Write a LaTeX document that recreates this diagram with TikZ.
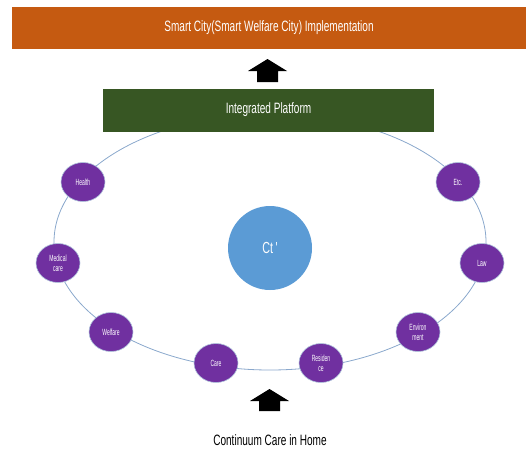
\documentclass[tikz,border=0pt]{standalone}
\usepackage{fontspec}
\usetikzlibrary{shapes.geometric}
\setmainfont{Liberation Sans}
\newfontfamily\narrowsans[FakeStretch=0.67]{Liberation Sans}
\newfontfamily\tinysans[FakeStretch=0.56]{Liberation Sans}
\definecolor{barorange}{HTML}{C55A11}
\definecolor{platgreen}{HTML}{375623}
\definecolor{topicpurple}{HTML}{7030A0}
\definecolor{hubblue}{HTML}{5B9BD5}
\definecolor{ringblue}{HTML}{8AA8CC}
\begin{document}
\begin{tikzpicture}[x=1pt,y=-1pt,
  topbar/.style={fill=barorange, draw=none, minimum width=514pt, minimum height=42pt,
    inner sep=0pt, text=white, font=\narrowsans\fontsize{15}{16}\selectfont},
  platform/.style={fill=platgreen, draw=none, minimum width=331pt, minimum height=43pt,
    inner sep=0pt, text=white, font=\narrowsans\fontsize{15}{16}\selectfont},
  ring/.style={draw=ringblue, line width=0.8pt},
  topic/.style={ellipse, fill=topicpurple, draw=ringblue!70, line width=0.6pt,
    minimum width=44pt, minimum height=39pt, inner sep=0pt, text=white, align=center,
    font=\tinysans\fontsize{9}{10}\selectfont},
  hub/.style={circle, fill=hubblue, draw=none, minimum size=84pt, inner sep=0pt,
    text=white, font=\narrowsans\fontsize{16}{17}\selectfont},
  blockarrow/.style={fill=black},
  caption/.style={font=\narrowsans\fontsize{15}{16}\selectfont, text=black}
]
\useasboundingbox (0,0) rectangle (526,450);

% goal bar
\node[topbar] (impl) at (269,28) {Smart City(Smart Welfare City) Implementation};

% ring of service domains
\draw[ring] (270,242) ellipse [x radius=216pt, y radius=128pt];

% platform sits over the top of the ring
\node[platform] (plat) at (268.5,110) {Integrated Platform};

\node[topic] (health)  at (83,182)  {Health};
\node[topic] (medical) at (58,263)  {Medical\\care};
\node[topic] (welfare) at (111,332) {Welfare};
\node[topic] (care)    at (216,363) {Care};
\node[topic] (resid)   at (321,363) {Residen\\ce};
\node[topic] (environ) at (418,332) {Environ\\ment};
\node[topic] (law)     at (482,263) {Law};
\node[topic] (etc)     at (458,182) {Etc.};

\node[hub] (ct) at (270,248) {Ct\,'};

% upward block arrows
\fill[blockarrow] (257,82) -- (257,71) -- (248,71) -- (267.5,59) -- (287,71) -- (278,71) -- (278,82) -- cycle;
\fill[blockarrow] (259,411) -- (259,401) -- (250,401) -- (269.5,389) -- (289,401) -- (280,401) -- (280,411) -- cycle;

\node[caption] (home) at (270,440) {Continuum Care in Home};
\end{tikzpicture}
\end{document}
